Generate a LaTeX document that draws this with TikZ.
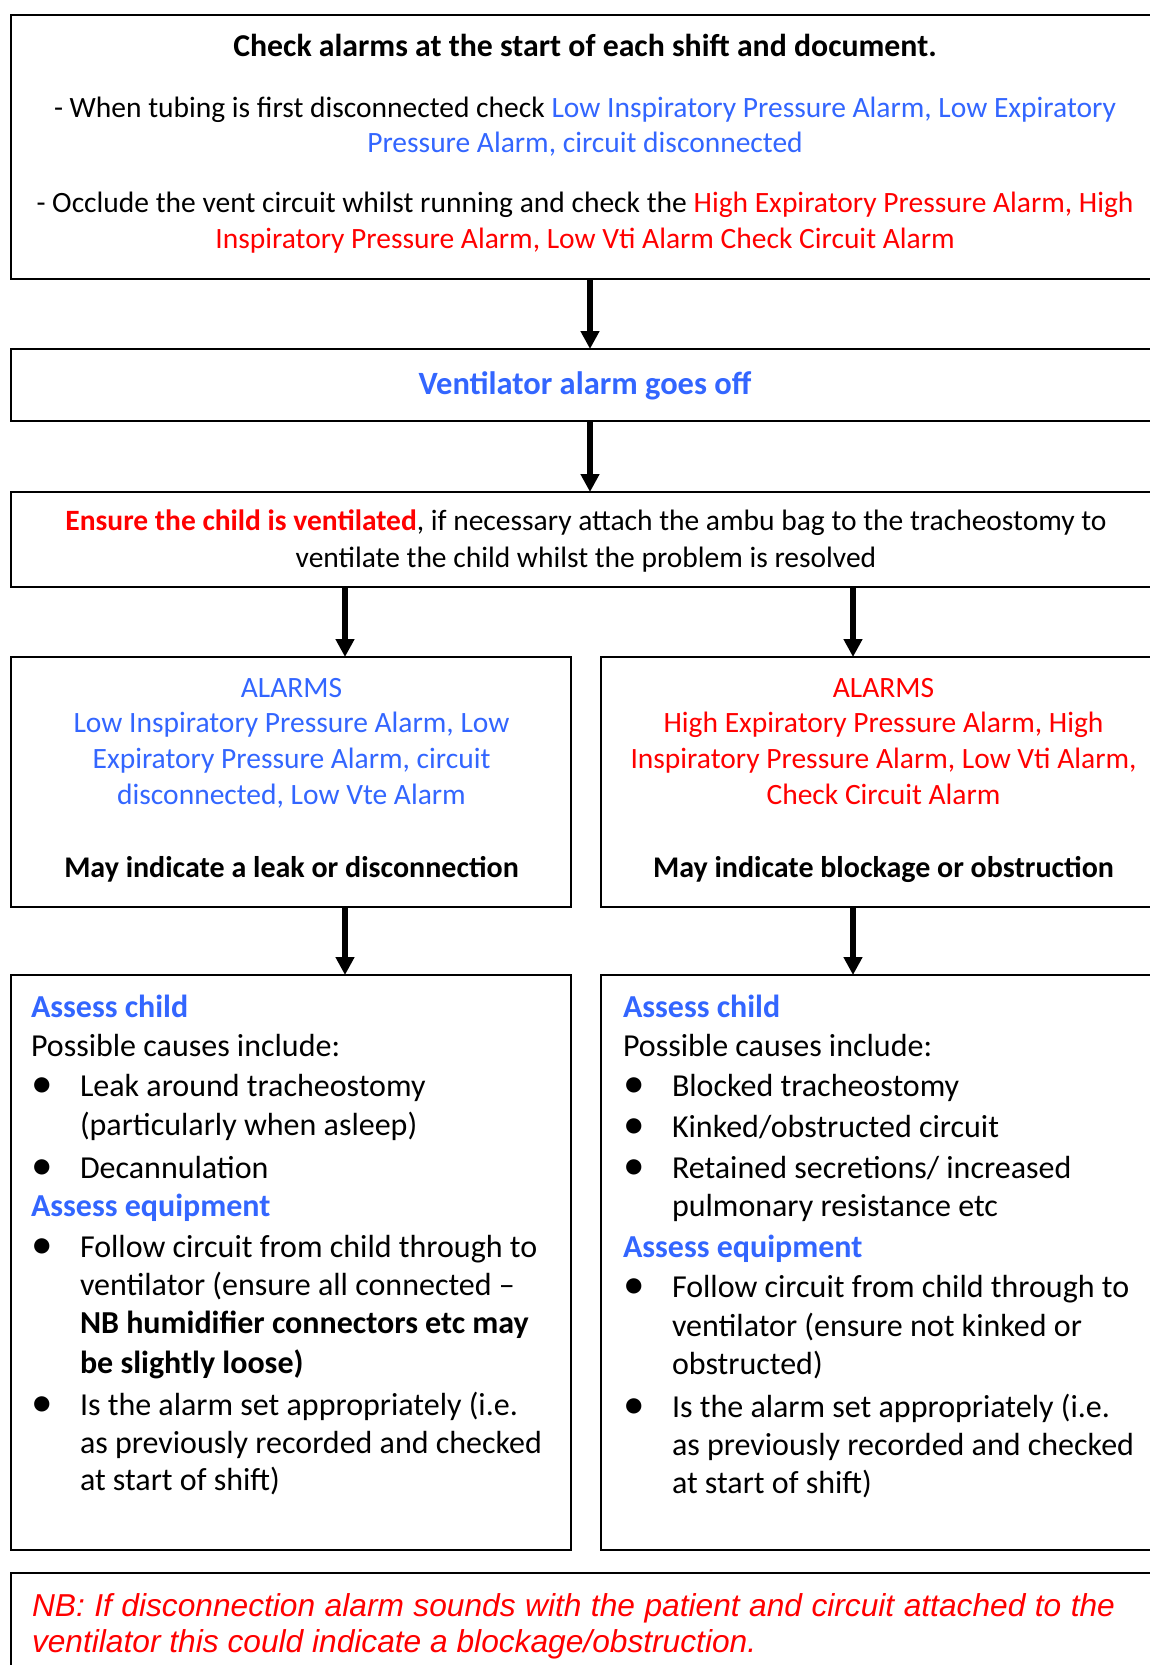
\documentclass[tikz,border=0pt]{standalone}
\usepackage{fontspec}
\setmainfont{Carlito}
\newfontfamily\nbfont{Liberation Sans}
\usetikzlibrary{arrows.meta}
\definecolor{ablue}{RGB}{51,102,255}
\definecolor{ared}{RGB}{255,0,0}
\newcommand\fsA{\fontsize{29.5}{35}\selectfont}
\newcommand\fsB{\fontsize{32}{38}\selectfont}
\newcommand\bul[1]{\makebox[49pt][l]{\raisebox{-1pt}{\scalebox{1.35}{\textbullet}}}#1}
\begin{document}
\begin{tikzpicture}[x=1pt,y=-1pt,
  box/.style={draw, line width=2pt, inner sep=0, outer sep=0},
  arr/.style={line width=6pt, -{Triangle[width=18pt,length=18pt]}},
  ln/.style={inner sep=0, outer sep=0, anchor=base},
  lnw/.style={inner sep=0, outer sep=0, anchor=base west}]
\clip (0,0) rectangle (1150,1665);
\fill[white] (0,0) rectangle (1150,1665);

% boxes
\node[box, minimum width=1151pt, minimum height=264pt] (top) at (586.5,147) {};
\node[box, minimum width=1151pt, minimum height=72pt] (alarm) at (586.5,385) {};
\node[box, minimum width=1151pt, minimum height=95pt] (vent) at (586.5,539.5) {};
\node[box, minimum width=560pt, minimum height=250pt] (leak) at (291,782) {};
\node[box, minimum width=561pt, minimum height=250pt] (block) at (881.5,782) {};
\node[box, minimum width=560pt, minimum height=575pt] (assessL) at (291,1262.5) {};
\node[box, minimum width=561pt, minimum height=575pt] (assessR) at (881.5,1262.5) {};
\node[box, minimum width=1151pt, minimum height=117pt] (nb) at (586.5,1631.5) {};

% connectors
\coordinate (ac) at (590,0);
\coordinate (aL) at (345,0);
\coordinate (aR) at (853,0);
\draw[arr] (top.south -| ac) -- (alarm.north -| ac);
\draw[arr] (alarm.south -| ac) -- (vent.north -| ac);
\draw[arr] (vent.south -| aL) -- (leak.north -| aL);
\draw[arr] (vent.south -| aR) -- (block.north -| aR);
\draw[arr] (leak.south -| aL) -- (assessL.north -| aL);
\draw[arr] (block.south -| aR) -- (assessR.north -| aR);

% top box text
\node[ln] (t1) at (585,56) {\fontsize{31.8}{36}\selectfont\bfseries Check alarms at the start of each shift and document.};
\node[ln] (t2) at (585,117) {\fsA - When tubing is first disconnected check \textcolor{ablue}{Low Inspiratory Pressure Alarm, Low Expiratory}};
\node[ln] (t3) at (585,152) {\fsA\color{ablue}Pressure Alarm, circuit disconnected};
\node[ln] (t4) at (585,212) {\fsA - Occlude the vent circuit whilst running and check the \textcolor{ared}{High Expiratory Pressure Alarm, High}};
\node[ln] (t5) at (585,248) {\fsA\color{ared}Inspiratory Pressure Alarm, Low Vti Alarm Check Circuit Alarm};

% alarm box
\node[ln] (t6) at (585,394) {\fontsize{32.5}{38}\selectfont\bfseries\color{ablue}Ventilator alarm goes off};

% ventilate box
\node[ln] (t7) at (586,530) {\fsA\textcolor{ared}{\bfseries Ensure the child is ventilated}, if necessary attach the ambu bag to the tracheostomy to};
\node[ln] (t8) at (586,567) {\fsA ventilate the child whilst the problem is resolved};

% leak box
\node[ln] (l1) at (291.5,697) {\fsA\color{ablue}ALARMS};
\node[ln] (l2) at (291.5,732) {\fsA\color{ablue}Low Inspiratory Pressure Alarm, Low};
\node[ln] (l3) at (291.5,768) {\fsA\color{ablue}Expiratory Pressure Alarm, circuit};
\node[ln] (l4) at (291.5,804) {\fsA\color{ablue}disconnected, Low Vte Alarm};
\node[ln] (l5) at (291.5,877) {\fontsize{30}{35}\selectfont\bfseries May indicate a leak or disconnection};

% block box
\node[ln] (r1) at (883.5,697) {\fsA\color{ared}ALARMS};
\node[ln] (r2) at (883.5,732) {\fsA\color{ared}High Expiratory Pressure Alarm, High};
\node[ln] (r3) at (883.5,768) {\fsA\color{ared}Inspiratory Pressure Alarm, Low Vti Alarm,};
\node[ln] (r4) at (883.5,804) {\fsA\color{ared}Check Circuit Alarm};
\node[ln] (r5) at (883.5,877) {\fontsize{30}{35}\selectfont\bfseries May indicate blockage or obstruction};

% assess left
\node[lnw] (a1) at (31,1017) {\fsB\bfseries\color{ablue}Assess child};
\node[lnw] (a2) at (31,1056) {\fsB Possible causes include:};
\node[lnw] (a3) at (31,1096) {\fsB\bul{Leak around tracheostomy}};
\node[lnw] (a4) at (80,1135) {\fsB (particularly when asleep)};
\node[lnw] (a5) at (31,1178) {\fsB\bul{Decannulation}};
\node[lnw] (a6) at (31,1216) {\fsB\bfseries\color{ablue}Assess equipment};
\node[lnw] (a7) at (31,1257) {\fsB\bul{Follow circuit from child through to}};
\node[lnw] (a8) at (80,1295) {\fsB ventilator (ensure all connected –};
\node[lnw] (a9) at (80,1333) {\fsB\bfseries NB humidifier connectors etc may};
\node[lnw] (a10) at (80,1373) {\fsB\bfseries be slightly loose)};
\node[lnw] (a11) at (31,1415) {\fsB\bul{Is the alarm set appropriately (i.e.}};
\node[lnw] (a12) at (80,1453) {\fsB as previously recorded and checked};
\node[lnw] (a13) at (80,1490) {\fsB at start of shift)};

% assess right
\node[lnw] (b1) at (623,1017) {\fsB\bfseries\color{ablue}Assess child};
\node[lnw] (b2) at (623,1056) {\fsB Possible causes include:};
\node[lnw] (b3) at (623,1096) {\fsB\bul{Blocked tracheostomy}};
\node[lnw] (b4) at (623,1137) {\fsB\bul{Kinked/obstructed circuit}};
\node[lnw] (b5) at (623,1178) {\fsB\bul{Retained secretions/ increased}};
\node[lnw] (b6) at (672,1216) {\fsB pulmonary resistance etc};
\node[lnw] (b7) at (623,1257) {\fsB\bfseries\color{ablue}Assess equipment};
\node[lnw] (b8) at (623,1297) {\fsB\bul{Follow circuit from child through to}};
\node[lnw] (b9) at (672,1336) {\fsB ventilator (ensure not kinked or};
\node[lnw] (b10) at (672,1374) {\fsB obstructed)};
\node[lnw] (b11) at (623,1417) {\fsB\bul{Is the alarm set appropriately (i.e.}};
\node[lnw] (b12) at (672,1455) {\fsB as previously recorded and checked};
\node[lnw] (b13) at (672,1493) {\fsB at start of shift)};

% NB box
\node[lnw] (n1) at (32,1616) {\nbfont\itshape\fontsize{31.7}{36}\selectfont\color{ared}\makebox[1083pt][s]{NB: If disconnection alarm sounds with the patient and circuit attached to the}};
\node[lnw] (n2) at (32,1652) {\nbfont\itshape\fontsize{31.7}{36}\selectfont\color{ared}ventilator this could indicate a blockage/obstruction.};
\end{tikzpicture}
\end{document}
